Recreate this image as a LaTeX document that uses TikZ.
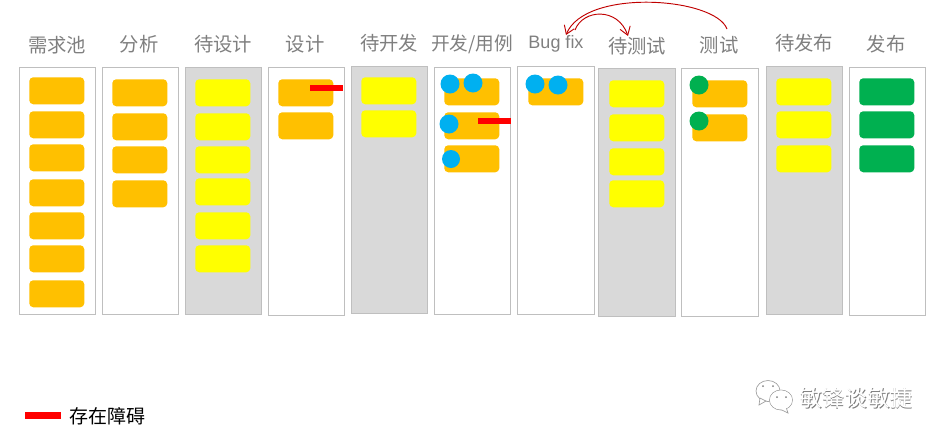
\documentclass[tikz,border=0pt]{standalone}
\usepackage{fontspec}
\setmainfont{Liberation Sans}
\newfontfamily\cjk{Noto Sans CJK SC}
\usetikzlibrary{arrows.meta}
\definecolor{cardorange}{HTML}{FFC000}
\definecolor{cardyellow}{HTML}{FFFF00}
\definecolor{cardgreen}{HTML}{00B050}
\definecolor{dotblue}{HTML}{00B0F0}
\definecolor{colgray}{HTML}{D9D9D9}
\definecolor{colline}{HTML}{BFBFBF}
\definecolor{titlegray}{HTML}{7F7F7F}
\definecolor{arcred}{HTML}{C00000}
\tikzset{
  colbox/.style={draw=colline,line width=0.75pt,fill=white},
  graybox/.style={colbox,fill=colgray},
  card/.style={rounded corners=3pt,minimum width=41.25pt,minimum height=20.25pt,inner sep=0,anchor=north west},
  ocard/.style={card,fill=cardorange},
  ycard/.style={card,fill=cardyellow},
  gcard/.style={card,fill=cardgreen},
  dot/.style={circle,minimum size=14.25pt,inner sep=0},
  bdot/.style={dot,fill=dotblue},
  gdot/.style={dot,fill=cardgreen},
  title/.style={font=\cjk\fontsize{14.5pt}{16pt}\selectfont,text=titlegray,inner sep=0},
  block/.style={fill=red,inner sep=0,minimum height=4.5pt},
  arc/.style={draw=arcred,line width=0.7pt,-{Straight Barb[length=6pt,width=8pt]}},
}
\begin{document}
\begin{tikzpicture}[x=0.75pt,y=-0.75pt]
\useasboundingbox (0,0) rectangle (943,440);
% columns
\draw[colbox]  (19,67)  rectangle (95,314);
\draw[colbox]  (102,67) rectangle (178,314);
\draw[graybox] (185,67) rectangle (261,314);
\draw[colbox]  (268,67) rectangle (344,315);
\draw[graybox] (351,66) rectangle (427,313);
\draw[colbox]  (434,67) rectangle (510,314);
\draw[colbox]  (517,66) rectangle (594,314);
\draw[graybox] (598,68) rectangle (675,316);
\draw[colbox]  (681,68) rectangle (758,316);
\draw[graybox] (766,66) rectangle (842,314);
\draw[colbox]  (849,67) rectangle (925,315);
% titles
\node[title] (t1)  at (57,45)  {需求池};
\node[title] (t2)  at (139,44) {分析};
\node[title] (t3)  at (223,44) {待设计};
\node[title] (t4)  at (305,44) {设计};
\node[title] (t5)  at (389,43) {待开发};
\node[title,font=\cjk\fontsize{14pt}{16pt}\selectfont] (t6)  at (472,44) {开发/用例};
\node[title,font=\fontsize{13.5pt}{16pt}\selectfont] (t7) at (556,44) {Bug fix};
\node[title] (t8)  at (637,46) {待测试};
\node[title] (t9)  at (719,45) {测试};
\node[title] (t10) at (804,43) {待发布};
\node[title] (t11) at (886,44) {发布};
% cards
\foreach \n/\yy in {a/77,b/111,c/144,d/179,e/212,f/245,g/280}
  \node[ocard] (c1\n) at (29,\yy) {};
\foreach \n/\yy in {a/79,b/113,c/146,d/180}
  \node[ocard] (c2\n) at (112,\yy) {};
\foreach \n/\yy in {a/79,b/113,c/146,d/178,e/212,f/245}
  \node[ycard] (c3\n) at (195,\yy) {};
\foreach \n/\yy in {a/79,b/112}
  \node[ocard] (c4\n) at (278,\yy) {};
\foreach \n/\yy in {a/77,b/110}
  \node[ycard] (c5\n) at (361,\yy) {};
\foreach \n/\yy in {a/78,b/112,c/145}
  \node[ocard] (c6\n) at (444,\yy) {};
\node[ocard] (c7a) at (528,78) {};
\foreach \n/\yy in {a/80,b/114,c/148,d/180}
  \node[ycard] (c8\n) at (609,\yy) {};
\foreach \n/\yy in {a/80,b/114}
  \node[ocard] (c9\n) at (692,\yy) {};
\foreach \n/\yy in {a/78,b/111,c/145}
  \node[ycard] (c10\n) at (776,\yy) {};
\foreach \n/\yy in {a/78,b/111,c/145}
  \node[gcard] (c11\n) at (859,\yy) {};
% dots
\node[bdot] (d1) at (450,84) {};
\node[bdot] (d2) at (473,83) {};
\node[bdot] (d3) at (449,124) {};
\node[bdot,minimum size=13.5pt] (d4) at (451,159) {};
\node[bdot] (d5) at (535,84) {};
\node[bdot] (d6) at (558,85) {};
\node[gdot] (d7) at (699,85) {};
\node[gdot] (d8) at (699,121) {};
% blocked markers
\node[block,minimum width=24.75pt] (b1) at (326.5,87.5) {};
\node[block,minimum width=24.75pt] (b2) at (494.5,120.5) {};
\node[block,minimum width=27pt,minimum height=5pt] (b3) at (42.5,415.5) {};
\node[anchor=west,inner sep=0,font=\cjk\fontsize{14.25pt}{16pt}\selectfont] (legend) at (69,416) {存在障碍};
% return arcs
\coordinate (arcA) at (727,29);
\coordinate (arcB) at (566,35);
\coordinate (arcC) at (575,30);
\coordinate (arcD) at (628,36);
\draw[arc] (arcA) .. controls (715,-3) and (585,-12) .. (arcB);
\draw[arc] (arcC) .. controls (583,9) and (618,7) .. (arcD);
% watermark
\begin{scope}[draw=gray!75,fill=white,line width=0.5pt]
  \filldraw (768,391) ellipse (12 and 10.5);
  \filldraw (760,398) -- (759,405) -- (766,401) -- cycle;
  \filldraw (781,400) ellipse (11.5 and 10);
  \filldraw (786,407) -- (788,413) -- (780,409) -- cycle;
  \fill[white] (781,400) ellipse (11 and 9.5);
  \fill[gray] (763,386) circle (1) (773,386) circle (1) (777,397) circle (1) (786,397) circle (1);
\end{scope}
\node[inner sep=0,text=gray,font=\cjk\fontsize{17pt}{19pt}\selectfont] (wm0) at (856.8,398.8) {敏锋谈敏捷};
\node[inner sep=0,text=white,font=\cjk\fontsize{17pt}{19pt}\selectfont] (wm) at (856,398) {敏锋谈敏捷};
\end{tikzpicture}
\end{document}
